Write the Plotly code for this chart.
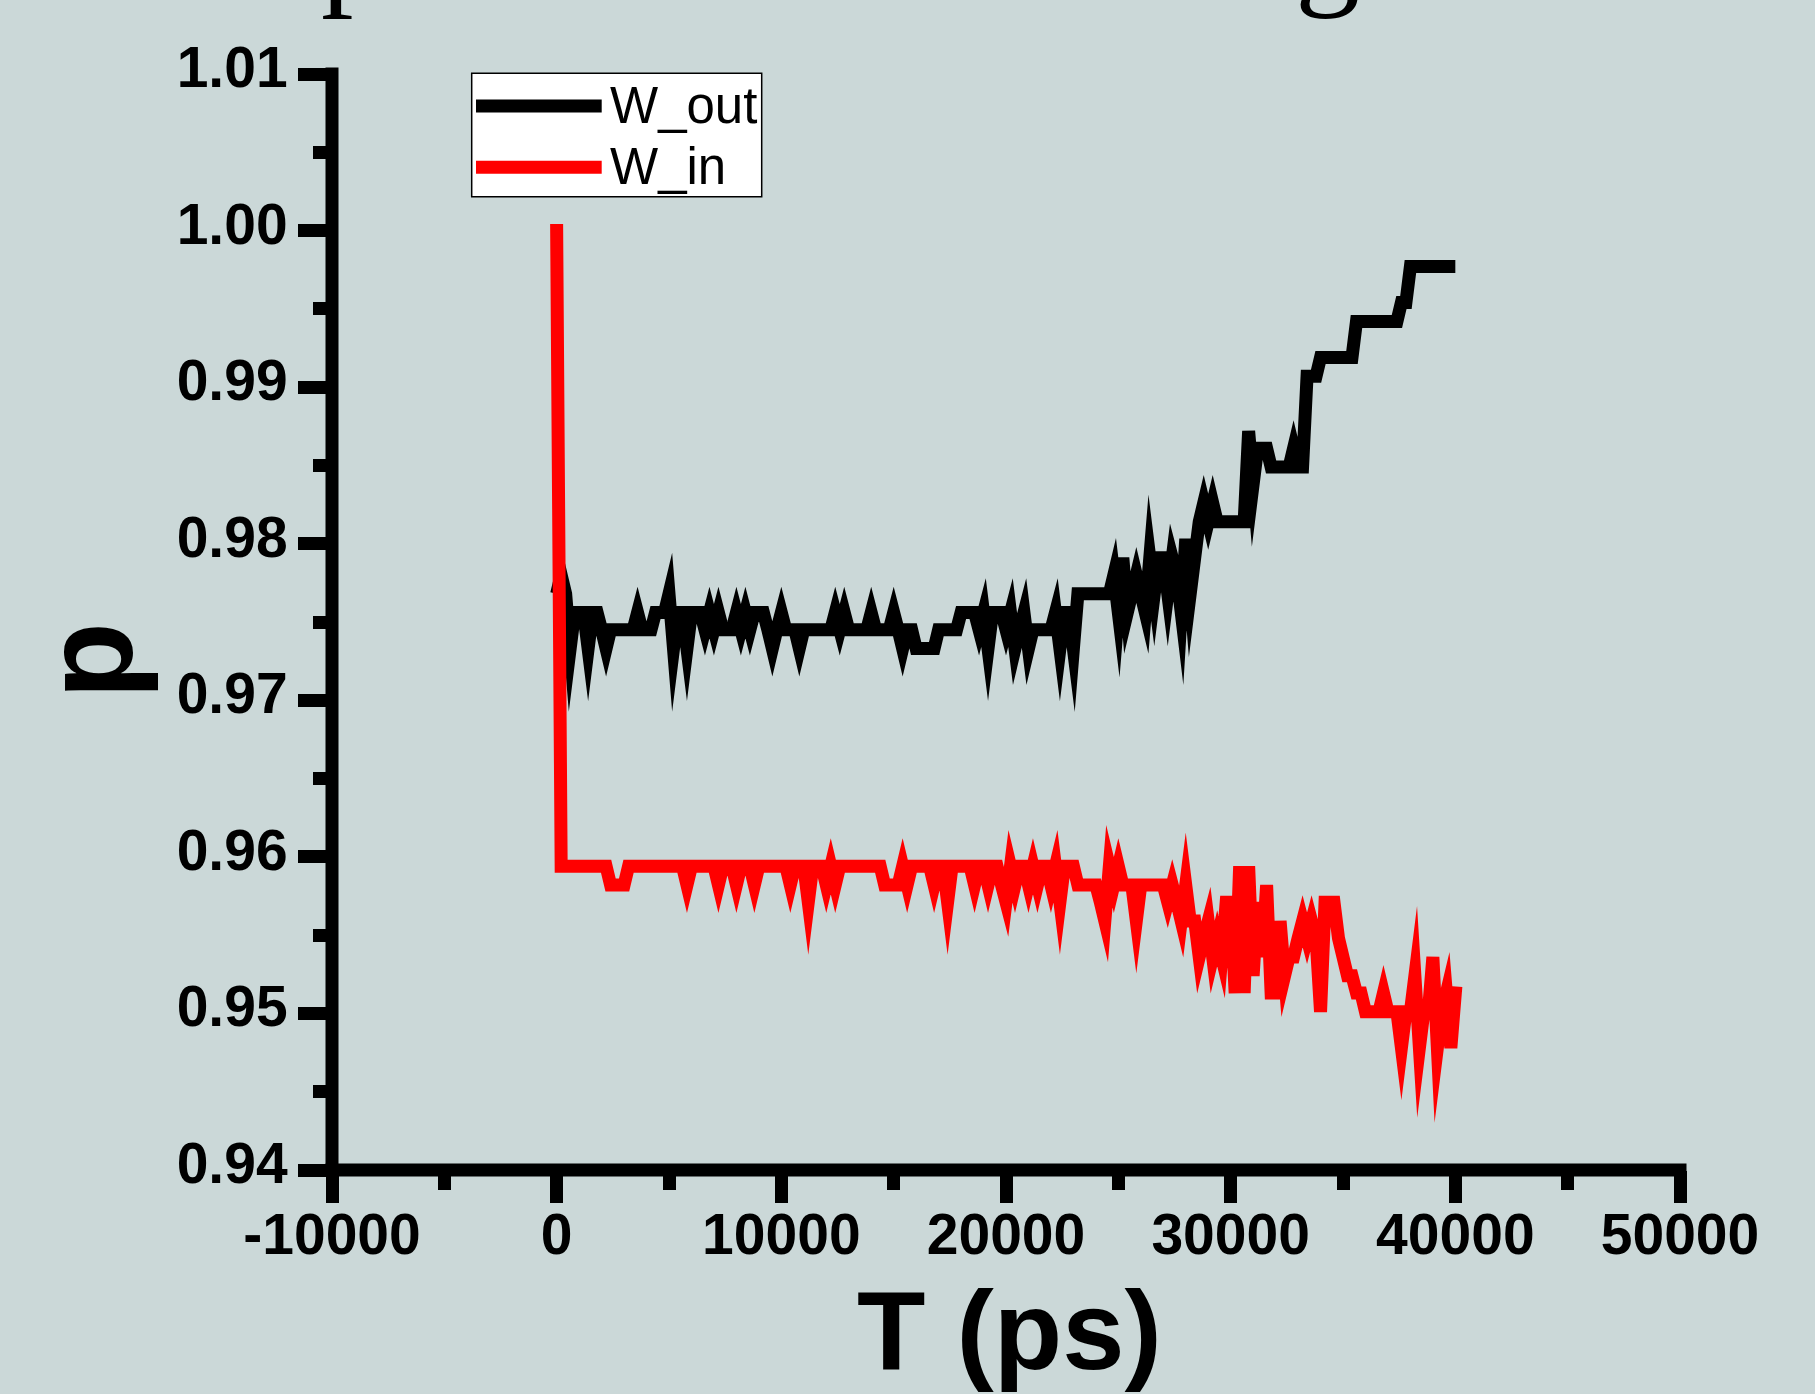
import plotly.graph_objects as go

# ---------------- data ----------------
t_ps = [
    0, 200, 400, 600, 800, 1000, 1200, 1400, 1600, 1800, 2000, 2200, 2400, 2600, 2800, 3000, 3200, 3400, 3600, 3800,
    4000, 4200, 4400, 4600, 4800, 5000, 5200, 5400, 5600, 5800, 6000, 6200, 6400, 6600, 6800, 7000, 7200, 7400, 7600, 7800,
    8000, 8200, 8400, 8600, 8800, 9000, 9200, 9400, 9600, 9800, 10000, 10200, 10400, 10600, 10800, 11000, 11200, 11400, 11600, 11800,
    12000, 12200, 12400, 12600, 12800, 13000, 13200, 13400, 13600, 13800, 14000, 14200, 14400, 14600, 14800, 15000, 15200, 15400, 15600, 15800,
    16000, 16200, 16400, 16600, 16800, 17000, 17200, 17400, 17600, 17800, 18000, 18200, 18400, 18600, 18800, 19000, 19200, 19400, 19600, 19800,
    20000, 20200, 20400, 20600, 20800, 21000, 21200, 21400, 21600, 21800, 22000, 22200, 22400, 22600, 22800, 23000, 23200, 23400, 23600, 23800,
    24000, 24200, 24400, 24600, 24800, 25000, 25200, 25400, 25600, 25800, 26000, 26200, 26400, 26600, 26800, 27000, 27200, 27400, 27600, 27800,
    28000, 28200, 28400, 28600, 28800, 29000, 29200, 29400, 29600, 29800, 30000, 30200, 30400, 30600, 30800, 31000, 31200, 31400, 31600, 31800,
    32000, 32200, 32400, 32600, 32800, 33000, 33200, 33400, 33600, 33800, 34000, 34200, 34400, 34600, 34800, 35000, 35200, 35400, 35600, 35800,
    36000, 36200, 36400, 36600, 36800, 37000, 37200, 37400, 37600, 37800, 38000, 38200, 38400, 38600, 38800, 39000, 39200, 39400, 39600, 39800,
    40000,
]

w_out = [
    0.9768, 0.9780, 0.9768, 0.9733, 0.9756, 0.9756, 0.9756, 0.9733, 0.9756, 0.9756,
    0.9745, 0.9733, 0.9745, 0.9745, 0.9745, 0.9745, 0.9745, 0.9745, 0.9756, 0.9745,
    0.9745, 0.9745, 0.9756, 0.9756, 0.9756, 0.9768, 0.9733, 0.9756, 0.9756, 0.9733,
    0.9756, 0.9756, 0.9756, 0.9745, 0.9756, 0.9745, 0.9756, 0.9745, 0.9745, 0.9745,
    0.9756, 0.9745, 0.9756, 0.9745, 0.9756, 0.9756, 0.9756, 0.9745, 0.9733, 0.9745,
    0.9756, 0.9745, 0.9745, 0.9745, 0.9733, 0.9745, 0.9745, 0.9745, 0.9745, 0.9745,
    0.9745, 0.9745, 0.9756, 0.9745, 0.9756, 0.9745, 0.9745, 0.9745, 0.9745, 0.9745,
    0.9756, 0.9745, 0.9745, 0.9745, 0.9745, 0.9756, 0.9745, 0.9733, 0.9745, 0.9745,
    0.9733, 0.9733, 0.9733, 0.9733, 0.9733, 0.9745, 0.9745, 0.9745, 0.9745, 0.9745,
    0.9756, 0.9756, 0.9756, 0.9756, 0.9745, 0.9756, 0.9733, 0.9756, 0.9756, 0.9756,
    0.9745, 0.9756, 0.9733, 0.9745, 0.9756, 0.9733, 0.9745, 0.9745, 0.9745, 0.9745,
    0.9745, 0.9756, 0.9733, 0.9756, 0.9756, 0.9733, 0.9768, 0.9768, 0.9768, 0.9768,
    0.9768, 0.9768, 0.9768, 0.9768, 0.9780, 0.9756, 0.9791, 0.9756, 0.9768, 0.9780,
    0.9768, 0.9756, 0.9791, 0.9768, 0.9791, 0.9791, 0.9768, 0.9791, 0.9780, 0.9756,
    0.9803, 0.9768, 0.9791, 0.9814, 0.9826, 0.9814, 0.9826, 0.9814, 0.9814, 0.9814,
    0.9814, 0.9814, 0.9814, 0.9814, 0.9872, 0.9838, 0.9861, 0.9861, 0.9861, 0.9849,
    0.9849, 0.9849, 0.9849, 0.9849, 0.9861, 0.9849, 0.9849, 0.9907, 0.9907, 0.9907,
    0.9919, 0.9919, 0.9919, 0.9919, 0.9919, 0.9919, 0.9919, 0.9919, 0.9942, 0.9942,
    0.9942, 0.9942, 0.9942, 0.9942, 0.9942, 0.9942, 0.9942, 0.9942, 0.9954, 0.9954,
    0.9977, 0.9977, 0.9977, 0.9977, 0.9977, 0.9977, 0.9977, 0.9977, 0.9977, 0.9977,
    0.9977,
]

w_in = [
    1.0000, 0.9594, 0.9594, 0.9594, 0.9594, 0.9594, 0.9594, 0.9594, 0.9594, 0.9594,
    0.9594, 0.9594, 0.9582, 0.9582, 0.9582, 0.9582, 0.9594, 0.9594, 0.9594, 0.9594,
    0.9594, 0.9594, 0.9594, 0.9594, 0.9594, 0.9594, 0.9594, 0.9594, 0.9594, 0.9582,
    0.9594, 0.9594, 0.9594, 0.9594, 0.9594, 0.9594, 0.9582, 0.9594, 0.9594, 0.9594,
    0.9582, 0.9594, 0.9594, 0.9594, 0.9582, 0.9594, 0.9594, 0.9594, 0.9594, 0.9594,
    0.9594, 0.9594, 0.9582, 0.9594, 0.9594, 0.9594, 0.9571, 0.9594, 0.9594, 0.9594,
    0.9582, 0.9594, 0.9582, 0.9594, 0.9594, 0.9594, 0.9594, 0.9594, 0.9594, 0.9594,
    0.9594, 0.9594, 0.9594, 0.9582, 0.9582, 0.9582, 0.9582, 0.9594, 0.9582, 0.9594,
    0.9594, 0.9594, 0.9594, 0.9594, 0.9582, 0.9594, 0.9594, 0.9571, 0.9594, 0.9594,
    0.9594, 0.9594, 0.9594, 0.9582, 0.9594, 0.9594, 0.9582, 0.9594, 0.9594, 0.9582,
    0.9571, 0.9594, 0.9582, 0.9594, 0.9594, 0.9582, 0.9594, 0.9582, 0.9594, 0.9594,
    0.9582, 0.9594, 0.9571, 0.9594, 0.9594, 0.9594, 0.9582, 0.9582, 0.9582, 0.9582,
    0.9582, 0.9571, 0.9559, 0.9594, 0.9582, 0.9594, 0.9582, 0.9582, 0.9582, 0.9559,
    0.9582, 0.9582, 0.9582, 0.9582, 0.9582, 0.9582, 0.9571, 0.9582, 0.9571, 0.9559,
    0.9582, 0.9559, 0.9559, 0.9536, 0.9548, 0.9559, 0.9536, 0.9548, 0.9536, 0.9571,
    0.9571, 0.9513, 0.9594, 0.9513, 0.9594, 0.9524, 0.9571, 0.9536, 0.9582, 0.9513,
    0.9513, 0.9559, 0.9524, 0.9536, 0.9536, 0.9548, 0.9559, 0.9548, 0.9559, 0.9548,
    0.9501, 0.9571, 0.9571, 0.9571, 0.9548, 0.9536, 0.9524, 0.9524, 0.9513, 0.9513,
    0.9501, 0.9501, 0.9501, 0.9501, 0.9513, 0.9501, 0.9501, 0.9501, 0.9478, 0.9501,
    0.9501, 0.9524, 0.9478, 0.9501, 0.9501, 0.9536, 0.9478, 0.9501, 0.9513, 0.9478,
    0.9513,
]

series_names = ["W_out", "W_in"]
series_colors = ["#000000", "#ff0000"]

x_tick_vals = [-10000, 0, 10000, 20000, 30000, 40000, 50000]
x_tick_text = ["-10000", "0", "10000", "20000", "30000", "40000", "50000"]
x_minor_vals = [-5000, 5000, 15000, 25000, 35000, 45000]
y_tick_vals = [0.94, 0.95, 0.96, 0.97, 0.98, 0.99, 1.00, 1.01]
y_tick_text = ["0.94", "0.95", "0.96", "0.97", "0.98", "0.99", "1.00", "1.01"]
y_minor_vals = [0.945, 0.955, 0.965, 0.975, 0.985, 0.995, 1.005]

x_title = "T (ps)"
y_title = "p"

# ---------------- layout constants (pixels) ----------------
W, H = 1815, 1394
ML, MR, MT, MB = 332, 135, 74, 224
PW, PH = W - ML - MR, H - MT - MB
BG = "#cbd8d8"
LW = 13


def px(xp):
    return (xp - ML) / PW


def py(yp):
    return (H - MB - yp) / PH


fig = go.Figure()
for name, vals, col in zip(series_names, [w_out, w_in], series_colors):
    fig.add_trace(go.Scatter(
        x=t_ps, y=vals, mode="lines", name=name,
        line=dict(color=col, width=LW, simplify=False),
        showlegend=False, hoverinfo="skip",
    ))

tickfont = dict(family="Liberation Sans, Arial, sans-serif", size=57, color="black", weight="bold")

fig.update_layout(
    width=W, height=H,
    margin=dict(l=ML, r=MR, t=MT, b=MB, pad=0),
    paper_bgcolor=BG, plot_bgcolor=BG,
    showlegend=False,
    xaxis=dict(
        range=[-10000, 50000], autorange=False, showgrid=False, zeroline=False, showline=False,
        tickmode="array", tickvals=x_tick_vals, ticktext=x_tick_text,
        ticks="outside", ticklen=32, tickwidth=LW, tickcolor="black",
        tickfont=tickfont, ticklabelstandoff=-17,
        minor=dict(tickmode="array", tickvals=x_minor_vals, ticks="outside",
                   ticklen=19, tickwidth=LW, tickcolor="black", showgrid=False),
    ),
    yaxis=dict(
        range=[0.94, 1.01], autorange=False, showgrid=False, zeroline=False, showline=False,
        tickmode="array", tickvals=y_tick_vals, ticktext=y_tick_text,
        ticks="outside", ticklen=33, tickwidth=LW, tickcolor="black",
        tickfont=tickfont, ticklabelstandoff=-1, ticklabelshift=-7,
        minor=dict(tickmode="array", tickvals=y_minor_vals, ticks="outside",
                   ticklen=18, tickwidth=LW, tickcolor="black", showgrid=False),
    ),
)

# axis lines (centered on the range edges, as in the reference)
fig.add_shape(type="line", xref="paper", yref="paper",
              x0=px(ML - 6.5), x1=px(ML + PW + 6.5), y0=0, y1=0,
              line=dict(color="black", width=LW), layer="above")
fig.add_shape(type="line", xref="paper", yref="paper",
              x0=0, x1=0, y0=py(H - MB + 6.5), y1=py(MT - 6.5),
              line=dict(color="black", width=LW), layer="above")

# legend box drawn by hand (long line samples as in the reference)
fig.add_shape(type="rect", xref="paper", yref="paper",
              x0=px(471.7), x1=px(761.7), y0=py(196.7), y1=py(73.3),
              line=dict(color="black", width=1.5), fillcolor="white", layer="above")
leg_rows = [106.0, 167.3]
for name, col, yrow in zip(series_names, series_colors, leg_rows):
    fig.add_shape(type="line", xref="paper", yref="paper",
                  x0=px(476), x1=px(601.7), y0=py(yrow), y1=py(yrow),
                  line=dict(color=col, width=LW), layer="above")
    fig.add_annotation(xref="paper", yref="paper", x=px(608), y=py(yrow - 1),
                       xanchor="left", yanchor="middle", showarrow=False, text=name,
                       font=dict(family="Liberation Sans, Arial, sans-serif", size=51, color="black"))

# axis titles
fig.add_annotation(xref="paper", yref="paper", x=px(1009.5), y=py(1330),
                   xanchor="center", yanchor="middle", showarrow=False, text=x_title,
                   font=dict(family="Liberation Sans, Arial, sans-serif", size=112, color="black", weight="bold"))
fig.add_annotation(xref="paper", yref="paper", x=px(88), y=py(661),
                   xanchor="center", yanchor="middle", showarrow=False, text=y_title, textangle=-90,
                   font=dict(family="Liberation Sans, Arial, sans-serif", size=126, color="black", weight="bold"))

# cut-off fragments of a larger caption above the chart
for ch, xc in [("p", 353), ("g", 1327)]:
    fig.add_annotation(xref="paper", yref="paper", x=px(xc), y=py(-53),
                       xanchor="center", yanchor="middle", showarrow=False, text=ch,
                       font=dict(family="Liberation Serif, Times New Roman, serif", size=130, color="black"))

post = """
document.body.style.margin = '0';
var gd = document.getElementById('{plot_id}');
gd.querySelectorAll('.scatterlayer path.js-line').forEach(function(p, k){
  p.style.strokeLinejoin = 'miter';
  p.style.strokeMiterlimit = '12';
  p.style.strokeLinecap = (k === 1) ? 'square' : 'butt';
});
"""

fig.write_html("out.html", config={"displayModeBar": False}, post_script=post)
